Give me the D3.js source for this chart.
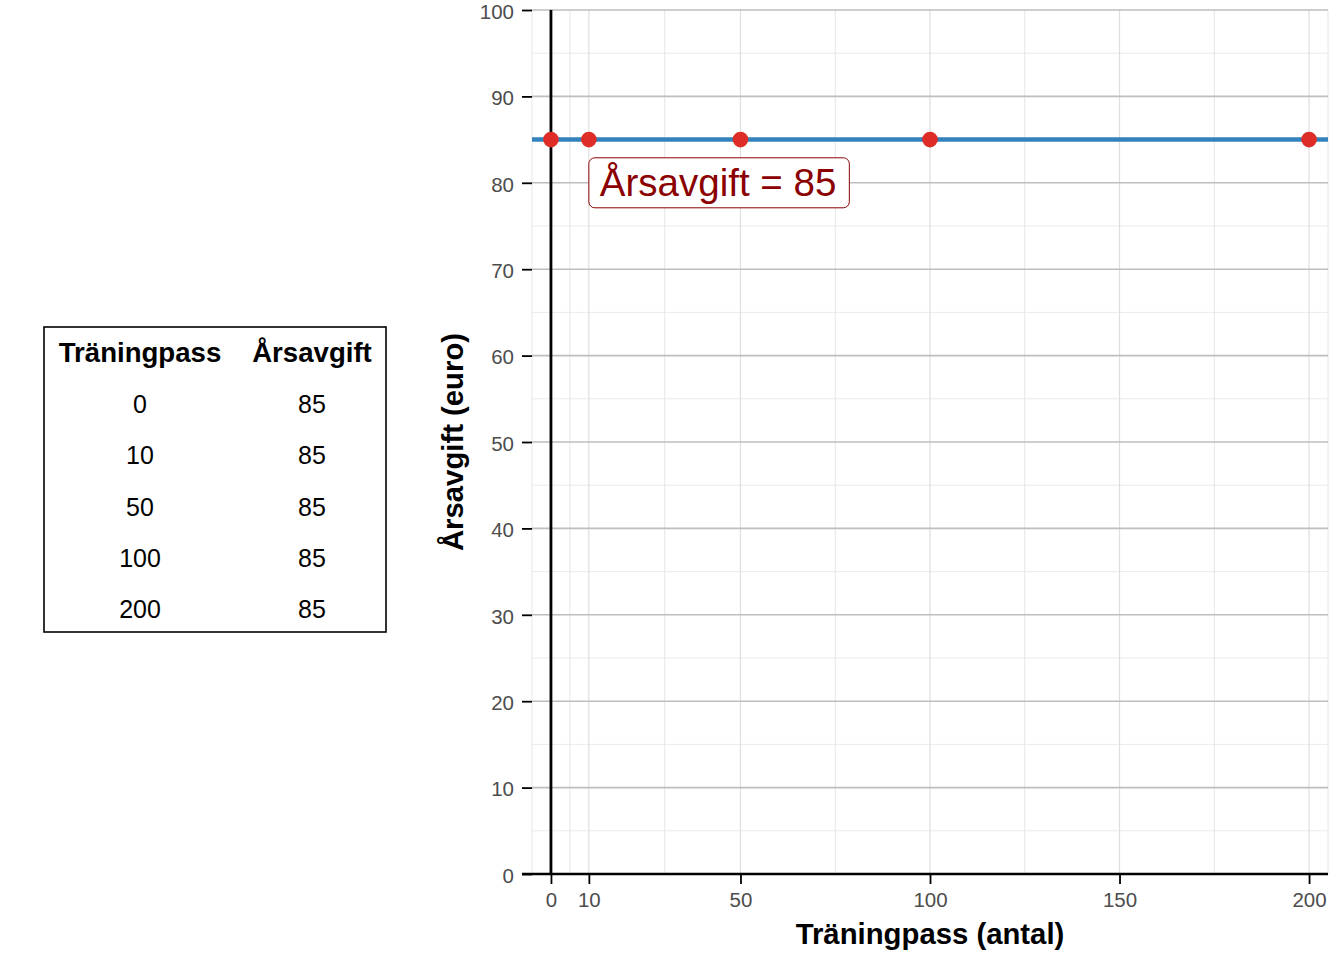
<!DOCTYPE html>
<html>
<head>
<meta charset="utf-8">
<script src="https://cdn.jsdelivr.net/npm/d3@7"></script>
<style>
  body { margin: 0; background: #fff; }
  text { font-family: "Liberation Sans", Arial, sans-serif; }
</style>
</head>
<body>
<svg id="chart" width="1344" height="960"></svg>
<script>
// data
const traningpass = [0, 10, 50, 100, 200];
const arsavgift = [85, 85, 85, 85, 85];
const xTicks = [0, 10, 50, 100, 150, 200];
const xMinor = [-5, 5, 30, 75, 125, 175, 205];
const yTicks = [0, 10, 20, 30, 40, 50, 60, 70, 80, 90, 100];
const yMinor = [5, 15, 25, 35, 45, 55, 65, 75, 85, 95];
const tabellRubrik = ["Träningpass", "Årsavgift"];
const etikett = { x: 10, y: 80, text: "Årsavgift = 85" };

const svg = d3.select("#chart");

const panel = { left: 532, right: 1328, top: 10, bottom: 874 };

const x = d3.scaleLinear()
    .domain([-5, 205])
    .range([panel.left, panel.right]);
const y = d3.scaleLinear()
    .domain([0, 100])
    .range([panel.bottom, panel.top]);

const g = svg.append("g");

// minor grid
g.selectAll(".yminor")
    .data(yMinor)
    .join("line")
    .attr("x1", panel.left).attr("x2", panel.right)
    .attr("y1", d => y(d)).attr("y2", d => y(d))
    .attr("stroke", "#ebebeb").attr("stroke-width", 1);
g.selectAll(".xminor")
    .data(xMinor)
    .join("line")
    .attr("x1", d => x(d)).attr("x2", d => x(d))
    .attr("y1", panel.top).attr("y2", panel.bottom)
    .attr("stroke", "#e6e6e6").attr("stroke-width", 1);

// major grid
g.selectAll(".xmajor")
    .data(xTicks)
    .join("line")
    .attr("x1", d => x(d)).attr("x2", d => x(d))
    .attr("y1", panel.top).attr("y2", panel.bottom)
    .attr("stroke", "#dedede").attr("stroke-width", 1.2);
g.selectAll(".ymajor")
    .data(yTicks)
    .join("line")
    .attr("x1", panel.left).attr("x2", panel.right)
    .attr("y1", d => y(d)).attr("y2", d => y(d))
    .attr("stroke", "#bebebe").attr("stroke-width", 1.6);

// axes
const yAxis = svg.append("g")
    .attr("transform", `translate(${panel.left},0)`)
    .call(d3.axisLeft(y).tickValues(yTicks).tickSize(10).tickPadding(8));
yAxis.select(".domain").remove();
yAxis.selectAll(".tick line").attr("stroke", "#000").attr("stroke-width", 1.8);
yAxis.selectAll(".tick text")
    .attr("font-size", 20.5).attr("fill", "#4d4d4d")
    .attr("dy", "0.4em")
    .attr("font-family", "Liberation Sans, Arial, sans-serif");

const xAxis = svg.append("g")
    .attr("transform", `translate(0,${panel.bottom})`)
    .call(d3.axisBottom(x).tickValues(xTicks).tickSize(10).tickPadding(8));
xAxis.select(".domain").remove();
xAxis.selectAll(".tick line").attr("stroke", "#000").attr("stroke-width", 1.8);
xAxis.selectAll(".tick text")
    .attr("font-size", 20.5).attr("fill", "#4d4d4d")
    .attr("font-family", "Liberation Sans, Arial, sans-serif");

// x axis line and vertical line at 0
svg.append("line")
    .attr("x1", panel.left - 10).attr("x2", panel.right)
    .attr("y1", y(0)).attr("y2", y(0))
    .attr("stroke", "#000").attr("stroke-width", 2.6);
svg.append("line")
    .attr("x1", x(0)).attr("x2", x(0))
    .attr("y1", panel.top).attr("y2", panel.bottom)
    .attr("stroke", "#000").attr("stroke-width", 2.8);

// horizontal line for the fee
svg.append("line")
    .attr("x1", panel.left).attr("x2", panel.right)
    .attr("y1", y(arsavgift[0])).attr("y2", y(arsavgift[0]))
    .attr("stroke", "#3182bd").attr("stroke-width", 4.5);

svg.selectAll(".punkt")
    .data(traningpass.map((d, i) => ({ x: d, y: arsavgift[i] })))
    .join("circle")
    .attr("cx", d => x(d.x))
    .attr("cy", d => y(d.y))
    .attr("r", 7.8)
    .attr("fill", "#de2d26");

// label
const lbl = svg.append("g");
const lblText = lbl.append("text")
    .attr("x", x(etikett.x) + 11)
    .attr("y", y(etikett.y) + 13)
    .attr("font-size", 38.5)
    .attr("fill", "#8b0000")
    .text(etikett.text);
const bb = lblText.node().getBBox();
lbl.insert("rect", "text")
    .attr("x", x(etikett.x))
    .attr("y", y(etikett.y) - 25)
    .attr("width", bb.width + 24)
    .attr("height", 50)
    .attr("rx", 6)
    .attr("fill", "#fff")
    .attr("stroke", "#8b0000")
    .attr("stroke-width", 1);

// axis titles
svg.append("text")
    .attr("x", (panel.left + panel.right) / 2)
    .attr("y", 944)
    .attr("text-anchor", "middle")
    .attr("font-size", 29.3)
    .attr("font-weight", "bold")
    .text("Träningpass (antal)");
svg.append("text")
    .attr("transform", `translate(463,${(panel.top + panel.bottom) / 2}) rotate(-90)`)
    .attr("text-anchor", "middle")
    .attr("font-size", 29.3)
    .attr("font-weight", "bold")
    .text("Årsavgift (euro)");

// table
const tab = { left: 44, top: 327, width: 342, height: 305 };
const colX = [140, 312];
svg.append("rect")
    .attr("x", tab.left).attr("y", tab.top)
    .attr("width", tab.width).attr("height", tab.height)
    .attr("fill", "#fff").attr("stroke", "#000").attr("stroke-width", 1.6);

svg.selectAll(".rubrik")
    .data(tabellRubrik)
    .join("text")
    .attr("x", (d, i) => colX[i])
    .attr("y", 362)
    .attr("text-anchor", "middle")
    .attr("font-size", 27.6)
    .attr("font-weight", "bold")
    .text(d => d);

const rowY = d3.scalePoint()
    .domain(d3.range(traningpass.length))
    .range([413, 618]);

traningpass.forEach((d, i) => {
    svg.append("text")
        .attr("x", colX[0]).attr("y", rowY(i))
        .attr("text-anchor", "middle")
        .attr("font-size", 25)
        .text(d);
    svg.append("text")
        .attr("x", colX[1]).attr("y", rowY(i))
        .attr("text-anchor", "middle")
        .attr("font-size", 25)
        .text(arsavgift[i]);
});
</script>
</body>
</html>
